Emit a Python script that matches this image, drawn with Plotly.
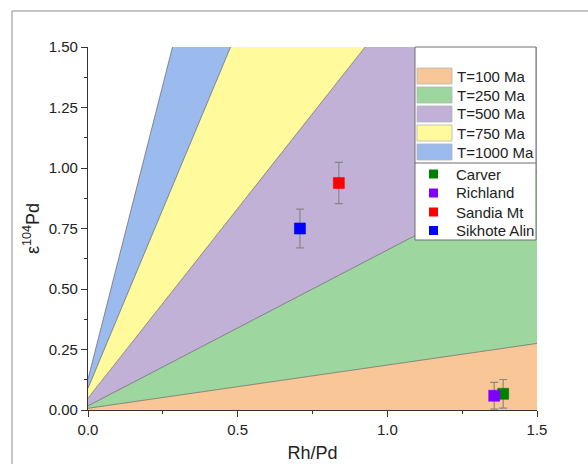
import plotly.graph_objects as go

# ---------------- data ----------------
ages = ["T=100 Ma", "T=250 Ma", "T=500 Ma", "T=750 Ma", "T=1000 Ma"]
band_colors = ["#F9C797", "#9DD69E", "#C1B1D6", "#FFFB9D", "#9BBAEE"]
iso_x = [0.0, 1.5]                                  # Rh/Pd at both ends of each isochron
iso_y_start = [0.007, 0.017, 0.049, 0.090, 0.128]   # eps104Pd at Rh/Pd = 0
iso_y_end = [0.275, 0.983, 2.40, 4.53, 7.42]        # eps104Pd at Rh/Pd = 1.5

samples = ["Carver", "Richland", "Sandia Mt", "Sikhote Alin"]
sample_colors = ["#008000", "#8000FF", "#FF0000", "#0000FF"]
rh_pd = [1.387, 1.357, 0.838, 0.708]
eps104 = [0.067, 0.059, 0.938, 0.750]
eps104_err = [0.059, 0.055, 0.085, 0.080]

x_ticks = [0.0, 0.5, 1.0, 1.5]
x_ticklabels = ["0.0", "0.5", "1.0", "1.5"]
y_ticks = [0.0, 0.25, 0.5, 0.75, 1.0, 1.25, 1.5]
y_ticklabels = ["0.00", "0.25", "0.50", "0.75", "1.00", "1.25", "1.50"]

# ---------------- layout geometry ----------------
W, H = 588, 464
L, R, T, B = 88, 537, 47, 410   # plot area in pixels


def px(xp):
    return (xp - L) / (R - L)


def py(yp):
    return (B - yp) / (B - T)


FONT = "Liberation Sans, Arial, sans-serif"
fig = go.Figure()

# isochron bands
for i, (name, col) in enumerate(zip(ages, band_colors)):
    lo0 = 0.0 if i == 0 else iso_y_start[i - 1]
    lo1 = 0.0 if i == 0 else iso_y_end[i - 1]
    fig.add_trace(go.Scatter(
        x=[iso_x[0], iso_x[1], iso_x[1], iso_x[0]],
        y=[lo0, lo1, iso_y_end[i], iso_y_start[i]],
        fill="toself", fillcolor=col, mode="none",
        showlegend=False, hoverinfo="skip", name=name))

# isochron boundary lines
for i in range(len(ages)):
    fig.add_trace(go.Scatter(
        x=iso_x, y=[iso_y_start[i], iso_y_end[i]], mode="lines",
        line=dict(color="rgba(90,90,90,0.8)", width=0.8),
        showlegend=False, hoverinfo="skip"))

# samples
for s, c, xv, yv, ev in zip(samples, sample_colors, rh_pd, eps104, eps104_err):
    fig.add_trace(go.Scatter(
        x=[xv], y=[yv], mode="markers", name=s,
        marker=dict(symbol="square", size=11, color=c,
                    line=dict(width=0.6, color=c)),
        error_y=dict(type="data", array=[ev], color="#888888",
                     thickness=1.2, width=4),
        showlegend=False))

shapes = []
annotations = []

# outer frame
shapes.append(dict(type="rect", xref="paper", yref="paper",
                   x0=px(12), x1=px(620), y0=py(500), y1=py(11),
                   line=dict(color="#8c8c8c", width=1), fillcolor="rgba(0,0,0,0)",
                   layer="below"))

# legend box
leg_l, leg_r, leg_t, leg_b, leg_sep = 415, 536, 47, 240, 163
shapes.append(dict(type="rect", xref="paper", yref="paper",
                   x0=px(leg_l), x1=px(leg_r), y0=py(leg_b), y1=py(leg_t),
                   line=dict(color="#6f6f6f", width=1), fillcolor="white",
                   layer="above"))
shapes.append(dict(type="line", xref="paper", yref="paper",
                   x0=px(leg_l), x1=px(leg_r), y0=py(leg_sep), y1=py(leg_sep),
                   line=dict(color="#6f6f6f", width=1), layer="above"))

band_rows = [76, 95, 114, 133, 152]
for name, col, yc in zip(ages, band_colors, band_rows):
    shapes.append(dict(type="rect", xref="paper", yref="paper",
                       x0=px(417), x1=px(452), y0=py(yc + 8), y1=py(yc - 8),
                       line=dict(color="#b4b4b4", width=0.8), fillcolor=col,
                       layer="above"))
    annotations.append(dict(xref="paper", yref="paper", x=px(455), y=py(yc),
                            text=name, showarrow=False, xanchor="left",
                            yanchor="middle",
                            font=dict(family=FONT, size=15, color="#222222")))

sample_rows = [174, 193, 212, 230.5]
for s, c, yc in zip(samples, sample_colors, sample_rows):
    shapes.append(dict(type="rect", xref="paper", yref="paper",
                       x0=px(429), x1=px(438), y0=py(yc + 4.5), y1=py(yc - 4.5),
                       line=dict(width=0), fillcolor=c, layer="above"))
    annotations.append(dict(xref="paper", yref="paper", x=px(454), y=py(yc),
                            text=s, showarrow=False, xanchor="left",
                            yanchor="middle",
                            font=dict(family=FONT, size=15, color="#222222")))

fig.update_layout(
    width=W, height=H,
    margin=dict(l=L, r=W - R, t=T, b=H - B),
    paper_bgcolor="white", plot_bgcolor="white",
    font=dict(family=FONT, size=15, color="#222222"),
    shapes=shapes, annotations=annotations,
    xaxis=dict(range=[0, 1.5], tickmode="array", tickvals=x_ticks,
               ticktext=x_ticklabels, showgrid=False, zeroline=False,
               automargin=False,
               showline=True, linecolor="#333333", linewidth=1.2,
               ticks="outside", ticklen=6, tickwidth=1.2, tickcolor="#333333",
               minor=dict(dtick=0.25, ticks="outside", ticklen=3,
                          tickcolor="#333333", tickwidth=1, showgrid=False),
               tickfont=dict(size=15),
               title=dict(text="Rh/Pd", font=dict(size=18), standoff=9)),
    yaxis=dict(range=[0, 1.5], tickmode="array", tickvals=y_ticks,
               ticktext=y_ticklabels, showgrid=False, zeroline=False,
               automargin=False,
               showline=True, linecolor="#333333", linewidth=1.2,
               ticks="outside", ticklen=6, tickwidth=1.2, tickcolor="#333333",
               minor=dict(dtick=0.125, ticks="outside", ticklen=3,
                          tickcolor="#333333", tickwidth=1, showgrid=False),
               tickfont=dict(size=15),
               title=dict(text="ε<sup>104</sup>Pd", font=dict(size=18),
                          standoff=4)),
)

fig.write_html("out.html",
               config={"displayModeBar": False},
               post_script="document.body.style.margin='0';"
                           "document.body.style.overflow='hidden';")
